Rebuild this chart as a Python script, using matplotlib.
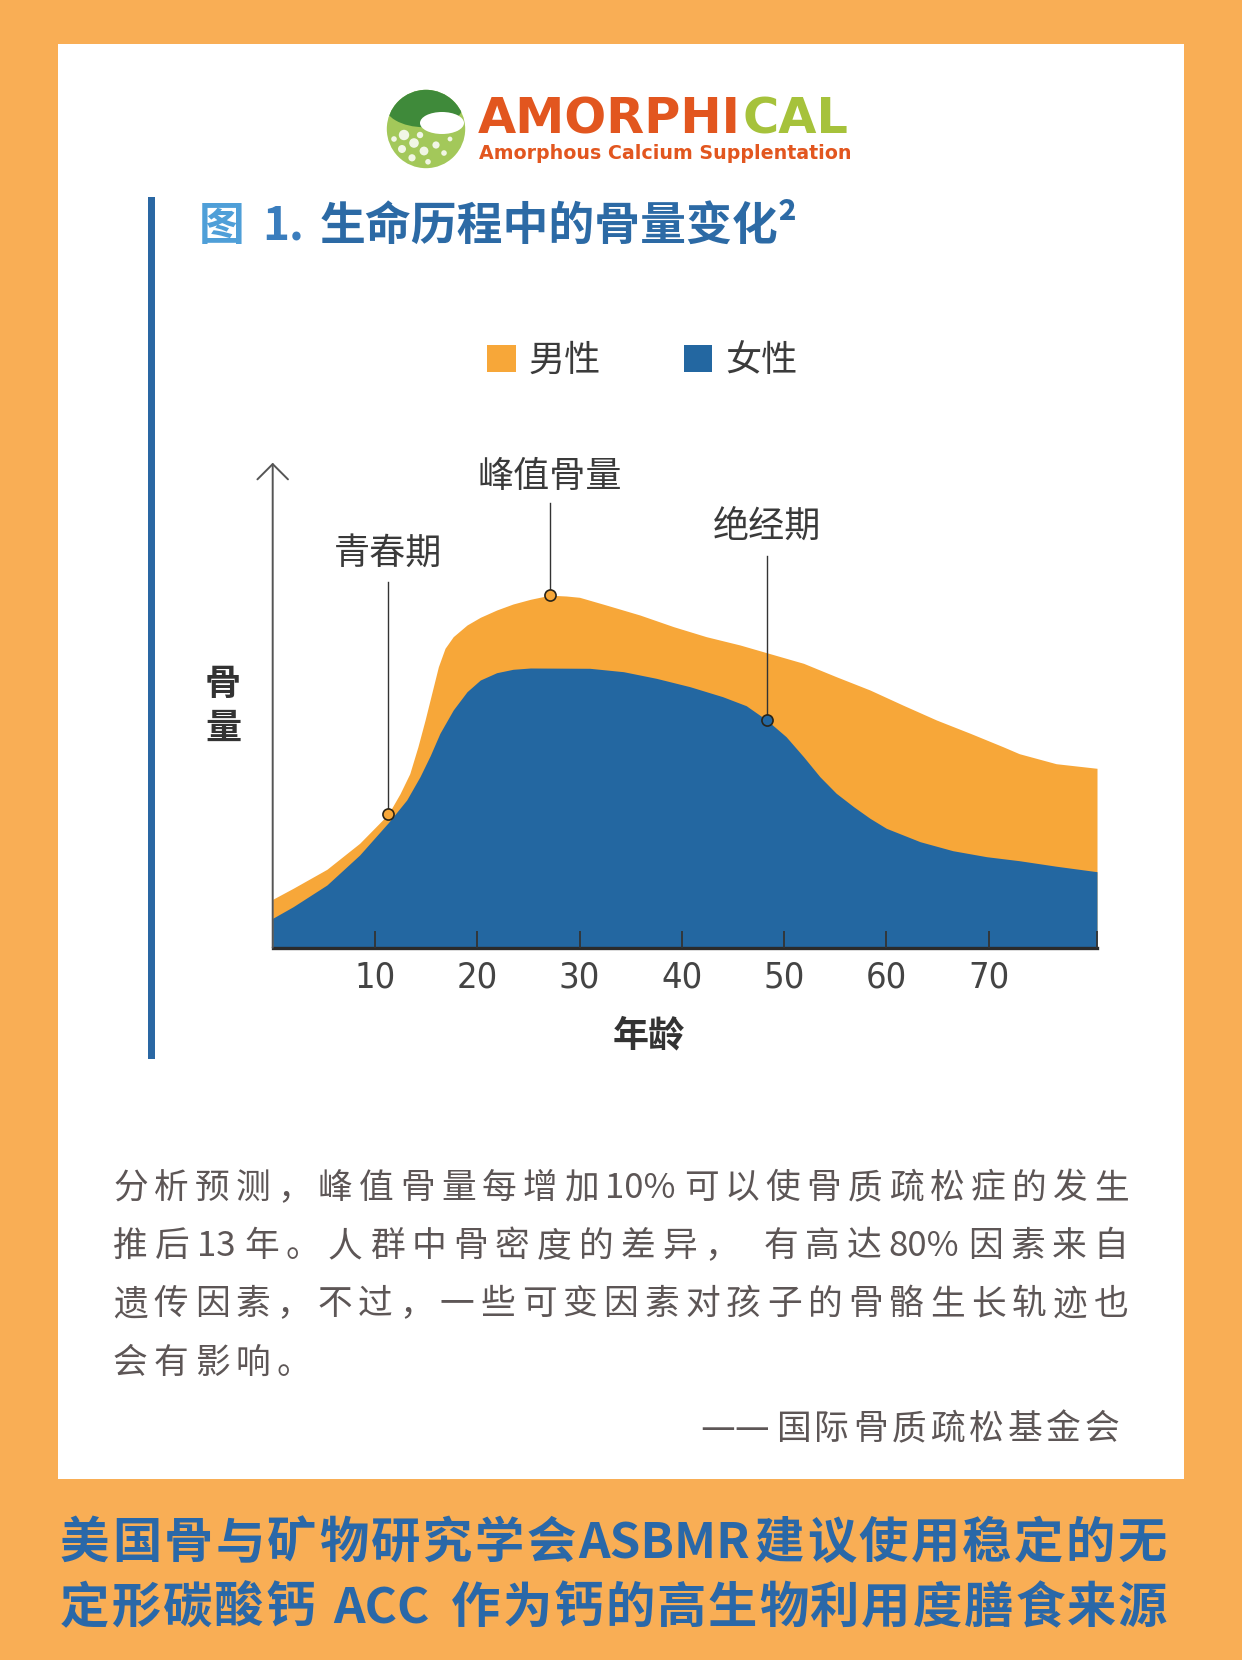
import matplotlib
matplotlib.use('Agg')
import matplotlib.pyplot as plt
from matplotlib import font_manager
from matplotlib.patches import Rectangle, Circle, Ellipse

plt.rcParams['font.family'] = ['Noto Sans CJK SC', 'DejaVu Sans']

# ---------------- data ----------------
ages_male = [0, 2.0, 5.3, 8.5, 11.3, 12.45, 13.4, 14.2, 14.9, 15.55, 16.2, 16.85, 17.65,
             19.0, 20.3, 21.9, 23.5, 25.2, 27.1, 28.7, 30.0, 32.6, 35.9, 39.2, 42.4,
             45.7, 48.3, 51.9, 55.1, 58.4, 61.6, 64.9, 68.2, 71.4, 73.0, 76.6, 80.6]
mass_male = [48.4, 59.4, 78.4, 104.4, 133.5, 154.0, 174.0, 201.0, 227.7, 254.4, 281.0,
             299.4, 311.0, 322.7, 330.4, 337.7, 343.7, 348.4, 352.5, 351.7, 350.4, 342.7,
             332.7, 321.0, 311.0, 302.7, 295.0, 284.4, 271.0, 257.7, 242.7, 227.7, 214.4,
             201.0, 194.0, 184.0, 179.4]

ages_female = [0, 2.0, 5.3, 8.5, 11.3, 13.1, 14.4, 15.4, 16.35, 17.65, 19.0, 20.3, 21.9,
               23.5, 25.2, 31.0, 34.3, 37.5, 40.8, 44.0, 46.3, 48.3, 50.2, 51.9, 53.5,
               55.1, 56.8, 58.4, 60.0, 63.3, 66.5, 69.8, 73.0, 76.6, 80.6]
mass_female = [29.4, 41.0, 62.7, 92.7, 125.0, 147.7, 171.0, 192.0, 214.4, 237.7, 256.0,
               267.7, 275.0, 278.4, 279.7, 279.4, 276.0, 269.4, 261.0, 251.0, 242.0, 227.7,
               211.0, 191.0, 171.0, 154.4, 141.0, 129.4, 119.4, 106.0, 97.0, 91.0, 87.0,
               81.5, 76.0]

series_labels = ['男性', '女性']
tick_ages = [10, 20, 30, 40, 50, 60, 70]
tick_labels = ['10', '20', '30', '40', '50', '60', '70']

event_labels = ['青春期', '峰值骨量', '绝经期']
event_ages = [11.3, 27.1, 48.3]
event_series = ['male', 'male', 'female']

title_prefix = '图'
title_num = '1.'
title_main = '生命历程中的骨量变化²'
x_label = '年龄'
y_label_chars = ['骨', '量']

body_lines = ['分析预测，峰值骨量每增加10%可以使骨质疏松症的发生',
              '推后13年。人群中骨密度的差异， 有高达80%因素来自',
              '遗传因素，不过，一些可变因素对孩子的骨骼生长轨迹也',
              '会有影响。']
attribution = '——国际骨质疏松基金会'
footer_lines = ['美国骨与矿物研究学会ASBMR建议使用稳定的无',
                '定形碳酸钙 ACC 作为钙的高生物利用度膳食来源']
logo_main_a = 'AMORPHI'
logo_main_b = 'CAL'
logo_sub = 'Amorphous Calcium Supplentation'

# ---------------- layout / style ----------------
W, H = 1242, 1660
ORANGE = '#f7a739'
BLUE = '#2367a1'
BG = '#f9ae55'
TXT = '#3a3a3a'

fig = plt.figure(figsize=(12.42, 16.6), dpi=100)
fig.patch.set_facecolor(BG)
renderer = fig.canvas.get_renderer()


def fx(x):
    return x / W


def fy(y):
    return 1 - y / H


fig.add_artist(Rectangle((fx(58), fy(1479)), (1184 - 58) / W, (1479 - 44.5) / H,
                         transform=fig.transFigure, facecolor='white',
                         edgecolor='none', zorder=0))
fig.add_artist(Rectangle((fx(148), fy(1059)), 6.5 / W, (1059 - 196.7) / H,
                         transform=fig.transFigure, facecolor='#2a67a3',
                         edgecolor='none', zorder=1))

names = {f.name for f in font_manager.fontManager.ttflist}
if 'Liberation Sans Narrow' in names:
    num_family = ['Liberation Sans Narrow', 'DejaVu Sans']
    num_stretch = 'normal'
else:
    num_family = ['DejaVu Sans']
    num_stretch = 'condensed'

# ---------------- chart ----------------
ax = fig.add_axes([272.7 / W, 1 - 947.7 / H, (1097 - 272.7) / W, 485 / H])
ax.set_facecolor('none')
ax.fill_between(ages_male, mass_male, 0, color=ORANGE, lw=0, label=series_labels[0], zorder=1)
ax.fill_between(ages_female, mass_female, 0, color=BLUE, lw=0, label=series_labels[1], zorder=1.1)
ax.set_xlim(0, ages_male[-1])
ax.set_ylim(0, 485)
ax.set_axisbelow(False)
for s in ['left', 'top', 'right']:
    ax.spines[s].set_visible(False)
ax.spines['bottom'].set_linewidth(2.4)
ax.spines['bottom'].set_color('#2b2b2b')
ax.set_yticks([])
ax.set_xticks(tick_ages + [ages_male[-1]])
ax.set_xticklabels(tick_labels + [''])
ax.tick_params(axis='x', direction='in', length=12, width=1.3, color='#333333',
               pad=9, labelsize=26, labelcolor='#444444')
for lab in ax.get_xticklabels():
    lab.set_fontfamily(num_family)
    lab.set_fontstretch(num_stretch)

ax.annotate('', xy=(0, 485), xytext=(0, 0),
            arrowprops=dict(arrowstyle='->,head_length=0.55,head_width=0.55',
                            lw=1.4, color='#555555', shrinkA=0, shrinkB=0,
                            mutation_scale=20),
            annotation_clip=False)

series_map = {'male': (ages_male, mass_male, ORANGE),
              'female': (ages_female, mass_female, BLUE)}
label_centers = [397.7, 474.4, 424.4]
leader_tops = [366.0, 444.4, 391.7]
em_ann = 26 * 100 / 72
for lbl, age, ser, lc, top in zip(event_labels, event_ages, event_series,
                                  label_centers, leader_tops):
    a, m, col = series_map[ser]
    yv = m[a.index(age)]
    ax.plot([age, age], [yv, top], color='#333333', lw=1.0, zorder=4, clip_on=False)
    ax.plot([age], [yv], 'o', ms=8, mfc=col, mec='#2a2418', mew=1.2, zorder=5,
            clip_on=False)
    ax.text(age, lc - 0.38 * em_ann, lbl, ha='center', va='baseline', fontsize=26,
            color=TXT, clip_on=False)

fig.text(fx(649), fy(1046), x_label, ha='center', va='baseline', fontsize=26,
         weight='bold', color='#333333')
for ch, yc in zip(y_label_chars, [681, 725]):
    fig.text(fx(223), fy(yc + 13.7), ch, ha='center', va='baseline', fontsize=26,
             weight='bold', color='#333333')

fig.legend(loc='center', bbox_to_anchor=(fx(642), fy(361)), ncol=2, frameon=False,
           fontsize=26, handlelength=0.8, handleheight=0.8, handletextpad=0.35,
           columnspacing=2.3, labelcolor='#3b3b3b')

# ---------------- title ----------------
fig.text(fx(199), fy(240), title_prefix, fontsize=33, weight='bold', color='#4f9fd8',
         va='baseline')
fig.text(fx(262), fy(240), title_num, fontsize=33, weight='bold', color='#3a7dbd',
         va='baseline')
fig.text(fx(320), fy(240), title_main, fontsize=33, weight='bold', color='#2c6aa5',
         va='baseline')

# ---------------- logo ----------------
lax = fig.add_axes([fx(426 - 40), fy(129 + 40), 80 / W, 80 / H])
lax.set_xlim(-1, 1)
lax.set_ylim(-1, 1)
lax.axis('off')
disc = Circle((0, 0), 0.98, fc='#a3c85a', ec='none')
lax.add_patch(disc)
for art in [Ellipse((-0.05, 0.62), 2.0, 1.15, fc='#3f8a3a', ec='none'),
            Ellipse((0.4, 0.15), 1.1, 0.55, fc='white', ec='none')]:
    lax.add_patch(art)
    art.set_clip_path(disc)
for (bx, by, br) in [(-0.55, -0.15, 0.13), (-0.3, -0.35, 0.12), (-0.6, -0.5, 0.1),
                     (-0.05, -0.55, 0.11), (0.25, -0.4, 0.09), (-0.35, -0.72, 0.09),
                     (0.05, -0.82, 0.07), (0.45, -0.6, 0.07), (0.6, -0.25, 0.06),
                     (0.75, 0.0, 0.05), (-0.8, -0.25, 0.07), (-0.15, -0.15, 0.08)]:
    c = Circle((bx, by), br, fc='white', ec='none', alpha=0.85)
    lax.add_patch(c)
    c.set_clip_path(disc)

LOGO_RED = '#e2561f'
fs_logo = 35
ta = fig.text(fx(478), fy(133), logo_main_a, fontsize=fs_logo, weight='bold',
              family='DejaVu Sans', color=LOGO_RED, va='baseline')
tb = fig.text(0, fy(133), logo_main_b, fontsize=fs_logo, weight='bold',
              family='DejaVu Sans', color='#a6c23b', va='baseline')
wa = ta.get_window_extent(renderer).width
wb = tb.get_window_extent(renderer).width
scale = (852 - 478) / (wa + wb + 4)
ta.set_fontsize(fs_logo * scale)
tb.set_fontsize(fs_logo * scale)
ext_a = ta.get_window_extent(renderer)
tb.set_x(fx(ext_a.x1 + 2))
ts = fig.text(fx(479), fy(159), logo_sub, fontsize=14, weight='bold',
              family='DejaVu Sans', color=LOGO_RED, va='baseline')
ws = ts.get_window_extent(renderer).width
ts.set_fontsize(14 * (852 - 479) / ws)


# ---------------- justified text helper ----------------
def is_cjk(tok):
    return len(tok) == 1 and ord(tok) >= 0x2E80


def char_kind(ch):
    if ch == '—':
        return 'dash'
    if ch.isascii() and ch != ' ':
        return 'ascii'
    return None


def tokenize(s):
    toks = []
    buf = ''
    kind = None
    for ch in s:
        k = char_kind(ch)
        if k is not None and k == kind:
            buf += ch
            continue
        if buf:
            toks.append(buf)
            buf = ''
        if k is not None:
            buf = ch
            kind = k
        else:
            kind = None
            toks.append(ch)
    if buf:
        toks.append(buf)
    return toks


def draw_line(s, x0, x1, baseline, fs, gap=None, **kw):
    em = fs * 100 / 72
    items = []
    for tok in tokenize(s):
        if tok == ' ':
            items.append((None, 0.3 * em))
            continue
        kws = dict(kw)
        if tok[0] == '—':
            kws['family'] = 'DejaVu Sans'
            kws['weight'] = 'normal'
        t = fig.text(0, fy(baseline), tok, fontsize=fs, va='baseline', ha='left', **kws)
        if is_cjk(tok):
            w = em
        else:
            w = t.get_window_extent(renderer).width + 0.06 * em
        items.append((t, w))
    if gap is None:
        total = sum(w for _, w in items)
        gap = (x1 - x0 + 0.04 * em - total) / (len(items) - 1)
    x = x0
    for t, w in items:
        if t is not None:
            t.set_x(fx(x))
        x += w + gap
    return gap


body_baselines = [1198, 1256, 1314, 1373]
g = None
for i, (line, bl) in enumerate(zip(body_lines, body_baselines)):
    last = (i == len(body_lines) - 1)
    gg = draw_line(line, 113, 1127, bl, 25, gap=(g if last else None),
                   color='#5d5656', weight='light')
    if not last:
        g = gg

draw_line(attribution, 700, 1118, 1439, 25, color='#5d5656', weight='light')

for line, bl in zip(footer_lines, [1558, 1623]):
    draw_line(line, 60, 1165, bl, 35.5, color='#2a68a8', weight='bold')

fig.savefig('out.png', dpi=100, facecolor=fig.get_facecolor())
